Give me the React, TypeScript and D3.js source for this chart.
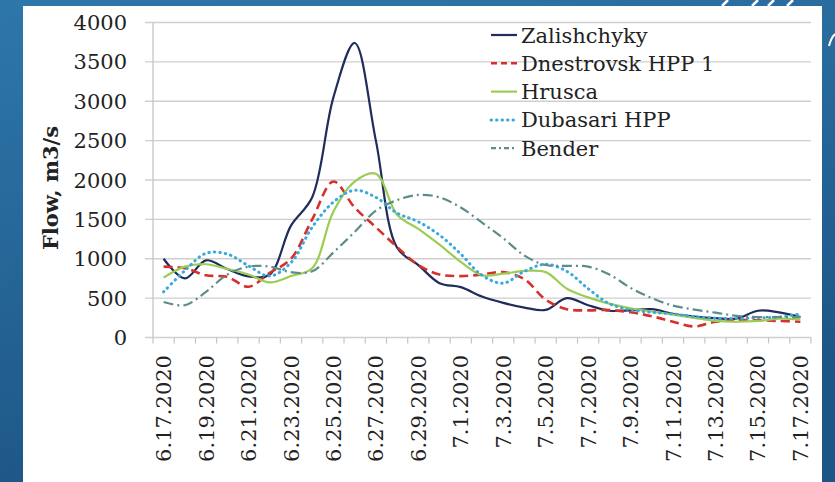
import React from "react";
import { scaleBand, scaleLinear, line, curveCatmullRom } from "d3";

// categories (daily, 6.17 .. 7.17.2020)
const dates = [
  "6.17.2020", "6.18.2020", "6.19.2020", "6.20.2020", "6.21.2020", "6.22.2020",
  "6.23.2020", "6.24.2020", "6.25.2020", "6.26.2020", "6.27.2020", "6.28.2020",
  "6.29.2020", "6.30.2020", "7.1.2020", "7.2.2020", "7.3.2020", "7.4.2020",
  "7.5.2020", "7.6.2020", "7.7.2020", "7.8.2020", "7.9.2020", "7.10.2020",
  "7.11.2020", "7.12.2020", "7.13.2020", "7.14.2020", "7.15.2020", "7.16.2020",
  "7.17.2020",
];

const zalishchyky = [1000, 750, 980, 870, 775, 800, 1420, 1780, 3050, 3740, 2500, 1140, 920, 690, 640, 520, 440, 380, 350, 500, 410, 340, 345, 360, 300, 265, 245, 240, 340, 320, 260];
const dnestrovsk = [900, 880, 790, 770, 645, 820, 1000, 1500, 1980, 1650, 1400, 1150, 920, 800, 780, 800, 830, 740, 480, 360, 345, 350, 320, 270, 200, 140, 200, 220, 220, 210, 200];
const hrusca = [760, 900, 930, 870, 800, 700, 780, 880, 1600, 1980, 2080, 1560, 1380, 1180, 960, 790, 810, 845, 830, 620, 510, 430, 370, 330, 290, 250, 210, 200, 210, 240, 230];
const dubasari = [580, 850, 1070, 1060, 910, 780, 950, 1400, 1720, 1870, 1780, 1580, 1470, 1300, 1060, 790, 690, 840, 930, 840, 620, 430, 350, 320, 300, 265, 245, 240, 250, 260, 300];
const bender = [450, 410, 580, 800, 900, 900, 830, 840, 1080, 1340, 1610, 1745, 1810, 1780, 1650, 1460, 1260, 1040, 920, 910, 900, 800, 630, 500, 405, 355, 315, 275, 260, 260, 260];

const yTicks = [0, 500, 1000, 1500, 2000, 2500, 3000, 3500, 4000];

const series = [
  { name: "Zalishchyky", values: zalishchyky, color: "#1f2c5c", width: 2.2, dash: "none", cap: "butt" },
  { name: "Dnestrovsk HPP 1", values: dnestrovsk, color: "#d5312c", width: 2.6, dash: "9 5", cap: "butt" },
  { name: "Hrusca", values: hrusca, color: "#9dcc55", width: 2.2, dash: "none", cap: "butt" },
  { name: "Dubasari HPP", values: dubasari, color: "#3aaade", width: 3, dash: "0.5 5", cap: "round" },
  { name: "Bender", values: bender, color: "#5e8c8c", width: 2.2, dash: "10 4 2 4", cap: "butt" },
];

const W = 835;
const H = 482;
const left = 153;
const right = 811;
const top = 22.5;
const bottom = 337.5;
const font = "'DejaVu Serif', serif";

export default function App() {
  const x = scaleBand<string>().domain(dates).range([left, right]);
  const y = scaleLinear().domain([0, 4000]).range([bottom, top]);
  const cx = (d: string) => (x(d) as number) + x.bandwidth() / 2;

  const path = (vals: number[]) =>
    line<number>()
      .x((_, i) => cx(dates[i]))
      .y((v) => y(v))
      .curve(curveCatmullRom.alpha(0.5))(vals) || "";

  const boundaries = [...dates.map((d) => x(d) as number), right];

  return (
    <svg width={W} height={H} style={{ position: "absolute", left: 0, top: 0 }}>
      <defs>
        <linearGradient id="bg" x1="0" y1="0" x2="0.3" y2="1">
          <stop offset="0" stopColor="#2e77aa" />
          <stop offset="1" stopColor="#1d5585" />
        </linearGradient>
      </defs>
      <rect width={W} height={H} fill="url(#bg)" />
      {/* decorative strokes top right */}
      {[722, 752, 768, 787].map((sx, i) => (
        <line key={i} x1={sx} y1={6} x2={sx + 6} y2={0} stroke="#ffffff" strokeWidth={2.5} />
      ))}
      <path d="M829,46 Q831,38 835,34" stroke="#ffffff" strokeWidth={2} fill="none" />
      <rect x={23} y={6} width={799} height={H - 6} fill="#ffffff" />

      {/* gridlines */}
      {yTicks.map((t) => (
        <line key={t} x1={145} x2={right} y1={y(t)} y2={y(t)} stroke="#cfcfcf" strokeWidth={1.3} />
      ))}
      <line x1={left} x2={left} y1={top} y2={bottom} stroke="#c4c4c4" strokeWidth={1.3} />
      {boundaries.map((b, i) => (
        <line key={i} x1={b} x2={b} y1={bottom} y2={bottom + 6} stroke="#c4c4c4" strokeWidth={1.2} />
      ))}

      {/* y tick labels */}
      {yTicks.map((t) => (
        <text key={t} x={127} y={y(t)} dy="0.36em" textAnchor="end" fontFamily={font} fontSize={21} fill="#222">
          {t}
        </text>
      ))}
      <text
        transform={`translate(51,${(top + bottom) / 2 + 8}) rotate(-90)`}
        textAnchor="middle"
        dy="0.35em"
        fontFamily={font}
        fontWeight="bold"
        fontSize={21}
        fill="#222"
      >
        Flow, m3/s
      </text>

      {/* x tick labels, every second day */}
      {dates.map((d, i) =>
        i % 2 === 0 ? (
          <text
            key={d}
            transform={`translate(${cx(d)},355) rotate(-90)`}
            textAnchor="end"
            dy="0.36em"
            fontFamily={font}
            fontSize={21}
            fill="#222"
          >
            {d}
          </text>
        ) : null
      )}

      {/* lines */}
      {series.map((s) => (
        <path
          key={s.name}
          d={path(s.values)}
          fill="none"
          stroke={s.color}
          strokeWidth={s.width}
          strokeDasharray={s.dash}
          strokeLinecap={s.cap as any}
        />
      ))}

      {/* legend */}
      {series.map((s, i) => {
        const ly = 35 + i * 28.3;
        return (
          <g key={s.name}>
            <rect x={489} y={ly - 13} width={190} height={26} fill="#ffffff" opacity={0} />
            <line x1={491} x2={517} y1={ly} y2={ly} stroke={s.color} strokeWidth={s.width} strokeDasharray={s.dash === "10 4 2 4" ? "5 3 2 3" : s.dash === "9 5" ? "6 4" : s.dash} strokeLinecap={s.cap as any} />
            <text x={521} y={ly} dy="0.36em" fontFamily={font} fontSize={21} fill="#222">
              {s.name}
            </text>
          </g>
        );
      })}
    </svg>
  );
}
